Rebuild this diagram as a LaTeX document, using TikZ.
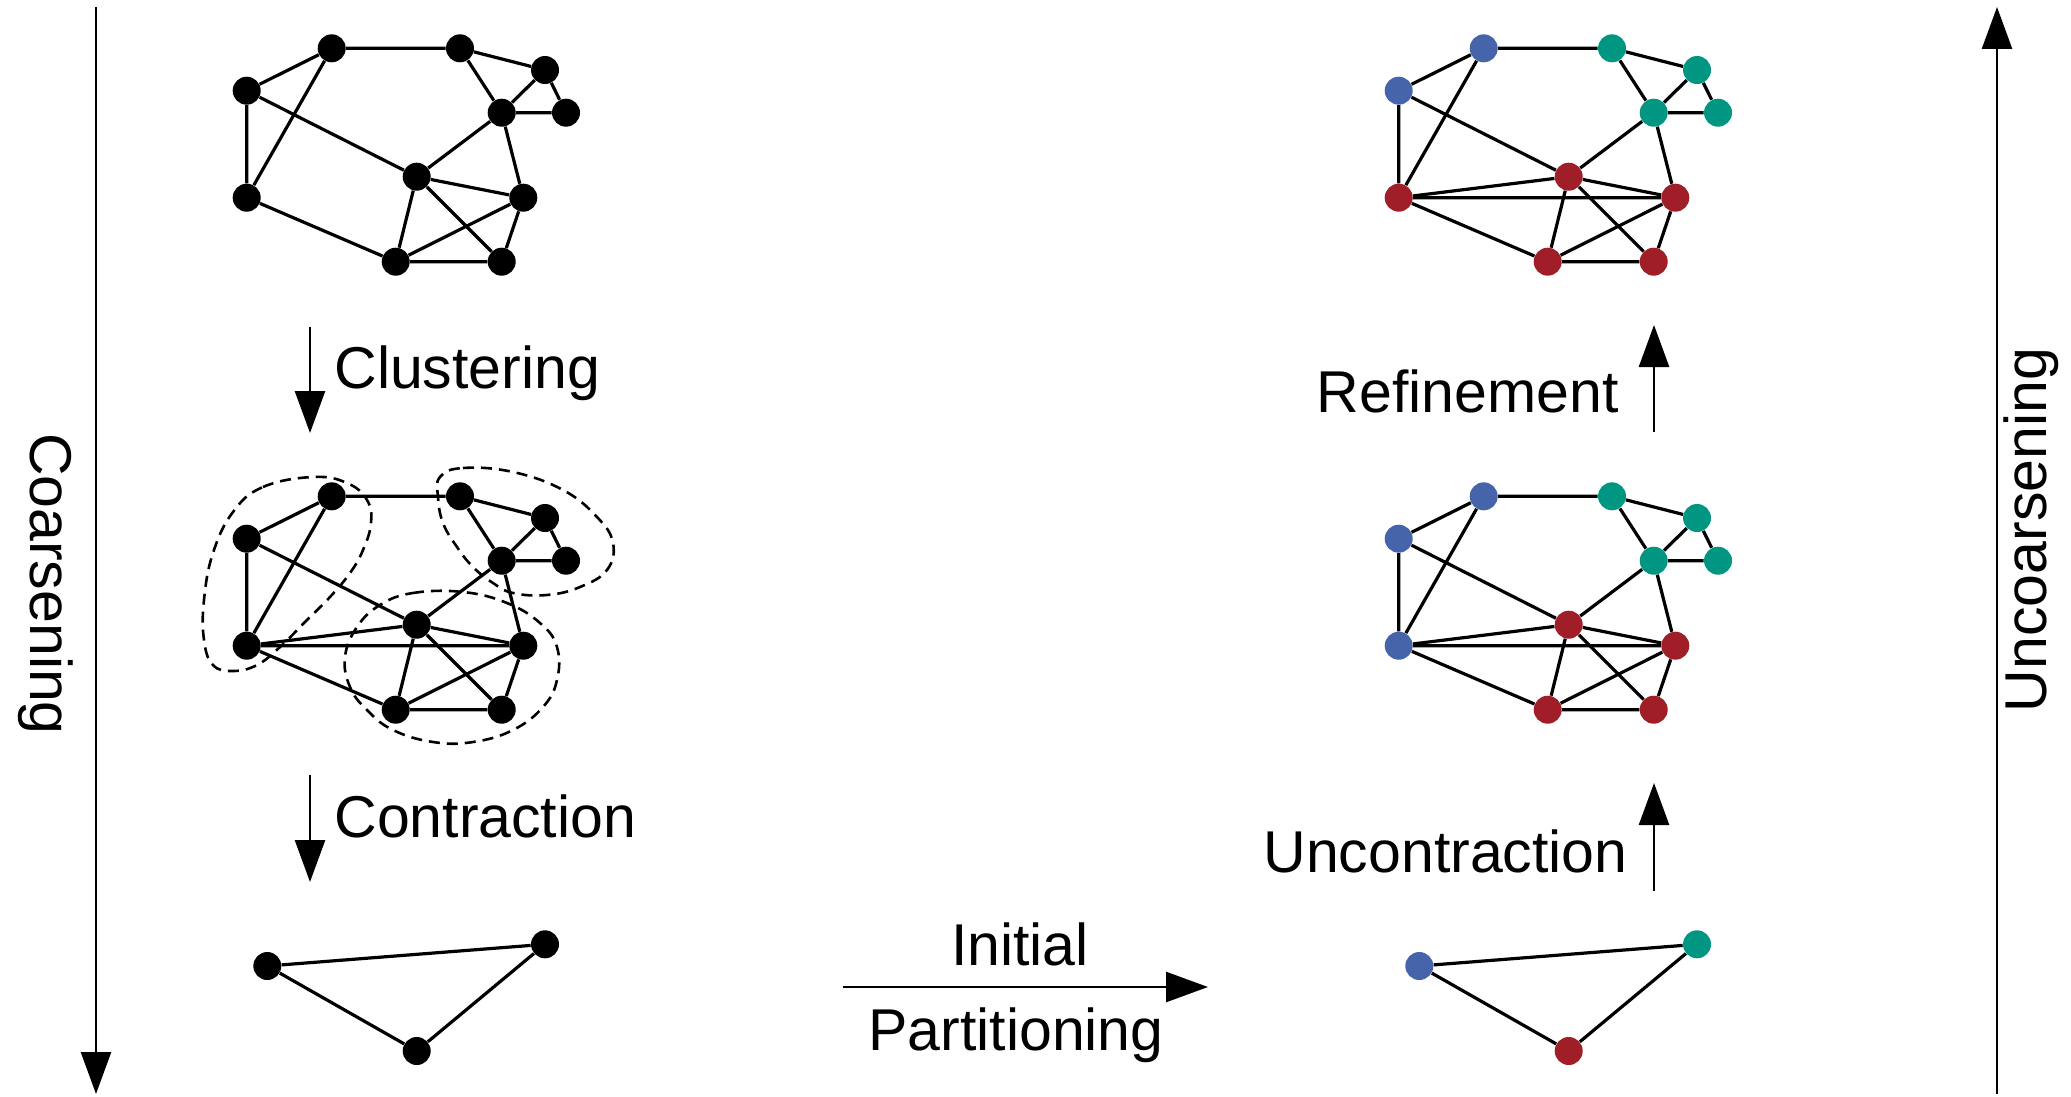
\documentclass[tikz,border=0pt]{standalone}
\usepackage{fontspec}
\setmainfont{Liberation Sans}
\usetikzlibrary{arrows.meta}

\definecolor{partblue}{HTML}{4664AA}
\definecolor{partteal}{HTML}{009682}
\definecolor{partred}{HTML}{A01E28}

\tikzset{
  vtx/.style={circle, fill=#1, draw=none, minimum size=14pt, inner sep=0pt},
  vtx/.default=black,
  link/.style={line width=1.6pt},
  flow/.style={line width=1.3pt, -{Triangle[length=21pt,width=15pt]}},
  cluster/.style={line width=1.3pt, dash pattern=on 5.5pt off 3.5pt},
  phasetext/.style={font=\fontsize{29.5}{34}\selectfont, inner sep=0pt},
}

% #1 name prefix, #2/#3 shift, #4 colour of a,d, #5 colour of h,
% #6 colour of b,c,e,f, #7 colour of g,i,j,k
\newcommand\bignet[7]{%
  \begin{scope}[shift={(#2,#3)}]
    \node[vtx=#4] (#1a) at (331.7,48.3) {};
    \node[vtx=#6] (#1b) at (460,48.3) {};
    \node[vtx=#6] (#1c) at (545,70) {};
    \node[vtx=#4] (#1d) at (246.7,90.7) {};
    \node[vtx=#6] (#1e) at (501.7,112.7) {};
    \node[vtx=#6] (#1f) at (566,112.7) {};
    \node[vtx=#7] (#1g) at (416.7,176.7) {};
    \node[vtx=#5] (#1h) at (246.7,197.7) {};
    \node[vtx=#7] (#1i) at (523.3,197.7) {};
    \node[vtx=#7] (#1j) at (395.7,261.7) {};
    \node[vtx=#7] (#1k) at (501.7,261.7) {};
  \end{scope}
  \draw[link] (#1d)--(#1a) (#1a)--(#1h) (#1a)--(#1b) (#1b)--(#1c)
    (#1b)--(#1e) (#1c)--(#1e) (#1c)--(#1f) (#1e)--(#1f) (#1d)--(#1h)
    (#1d)--(#1g) (#1e)--(#1g) (#1e)--(#1i) (#1g)--(#1i) (#1g)--(#1j)
    (#1g)--(#1k) (#1h)--(#1j) (#1i)--(#1j) (#1i)--(#1k) (#1j)--(#1k);
}

% #1 name prefix, #2 x shift, #3/#4/#5 colours of the three vertices
\newcommand\smallnet[5]{%
  \begin{scope}[shift={(#2,0)}]
    \node[vtx=#3] (#1p) at (267.3,966) {};
    \node[vtx=#4] (#1q) at (545,944.3) {};
    \node[vtx=#5] (#1r) at (416.7,1051) {};
  \end{scope}
  \draw[link] (#1p)--(#1q) (#1p)--(#1r) (#1r)--(#1q);
}

\begin{document}
\begin{tikzpicture}[x=0.5pt,y=-0.5pt]
  \useasboundingbox (0,0) rectangle (2071,1097);

  % input graph
  \bignet{u}{0}{0}{black}{black}{black}{black}
  % clustered graph
  \bignet{v}{0}{448}{black}{black}{black}{black}
  \draw[link] (vh)--(vg) (vh)--(vi);
  % clusters
  \draw[cluster] plot[smooth cycle, tension=0.7] coordinates {
    (233,512) (263,487) (313,477) (347,483) (367,500) (371,523) (363,550)
    (350,573) (330,597) (307,620) (280,647) (257,665) (233,671) (213,665)
    (204,640) (204,600) (213,553)};
  \draw[cluster] plot[smooth cycle, tension=0.7] coordinates {
    (440,477) (463,468) (513,472) (563,490) (597,517) (613,543) (607,570)
    (580,587) (547,595) (513,593) (493,583) (473,567) (457,547) (443,523)
    (438,497)};
  \draw[cluster] plot[smooth cycle, tension=0.7] coordinates {
    (380,605) (413,593) (463,592) (507,603) (540,623) (557,647) (557,680)
    (543,707) (513,730) (473,742) (433,742) (393,730) (367,710) (350,687)
    (345,657) (357,627)};
  % coarsest graph
  \smallnet{w}{0}{black}{black}{black}

  % partitioned coarsest graph
  \smallnet{x}{1152}{partblue}{partteal}{partred}
  % uncontracted graph
  \bignet{y}{1152}{448}{partblue}{partblue}{partteal}{partred}
  \draw[link] (yh)--(yg) (yh)--(yi);
  % refined graph
  \bignet{z}{1152}{0}{partblue}{partred}{partteal}{partred}
  \draw[link] (zh)--(zg) (zh)--(zi);

  % phase arrows
  \coordinate (coarse-top) at (96,7);
  \coordinate (coarse-bot) at (96,1094);
  \draw[flow] (coarse-top) -- (coarse-bot);
  \node[phasetext, rotate=-90, anchor=base] (coarse) at (31,584) {Coarsening};

  \coordinate (uncoarse-bot) at (1997,1094);
  \coordinate (uncoarse-top) at (1997,7);
  \draw[flow] (uncoarse-bot) -- (uncoarse-top);
  \node[phasetext, rotate=90, anchor=base] (uncoarse) at (2046,530) {Uncoarsening};

  \coordinate (clus-a) at (310,327);
  \coordinate (clus-b) at (310,433);
  \draw[flow] (clus-a) -- (clus-b);
  \node[phasetext, anchor=base west] (clus) at (334,388) {Clustering};

  \coordinate (contr-a) at (310,775);
  \coordinate (contr-b) at (310,882);
  \draw[flow] (contr-a) -- (contr-b);
  \node[phasetext, anchor=base west] (contr) at (334,837) {Contraction};

  \coordinate (init-a) at (843,987);
  \coordinate (init-b) at (1208,987);
  \draw[flow] (init-a) -- (init-b);
  \node[phasetext, anchor=base] (init1) at (1020,965) {Initial};
  \node[phasetext, anchor=base] (init2) at (1016,1050) {Partitioning};

  \coordinate (uncon-a) at (1654,891);
  \coordinate (uncon-b) at (1654,783);
  \draw[flow] (uncon-a) -- (uncon-b);
  \node[phasetext, anchor=base east] (uncon) at (1628,872) {Uncontraction};

  \coordinate (refi-a) at (1654,432);
  \coordinate (refi-b) at (1654,325);
  \draw[flow] (refi-a) -- (refi-b);
  \node[phasetext, anchor=base east] (refi) at (1619,412) {Refinement};
\end{tikzpicture}
\end{document}
